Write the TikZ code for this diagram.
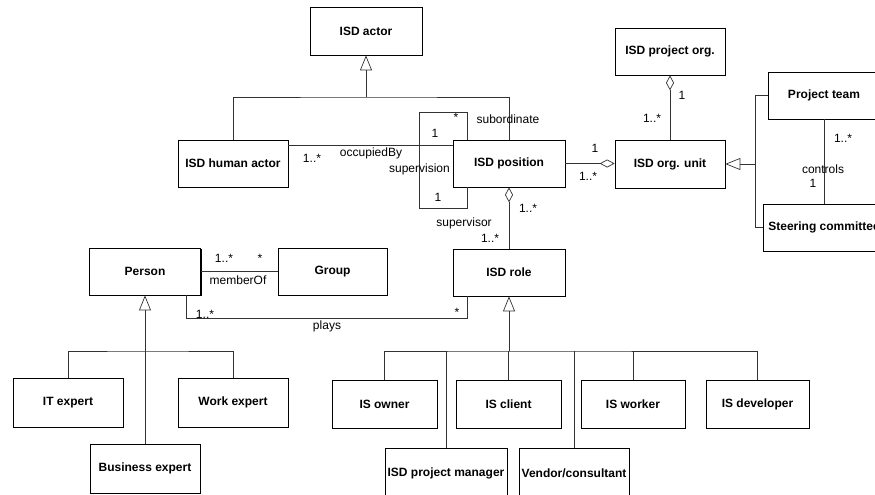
\documentclass[tikz,border=0pt]{standalone}
\usepackage{fontspec}
\setmainfont{Liberation Sans}
\usetikzlibrary{arrows.meta,calc,shadows}
\begin{document}
\begin{tikzpicture}[x=1pt,y=-1pt,
  box/.style={draw=black,line width=0.7pt,fill=white,rectangle,inner sep=0pt,
    minimum width=#1,minimum height=47pt,
    font=\fontsize{12}{14}\selectfont\bfseries,
    general shadow={fill=black,shadow xshift=1.1pt,shadow yshift=-1.1pt}},
  box/.default=110pt,
  conn/.style={draw=black!80,line width=0.6pt},
  gen/.style={conn,-{Triangle[open,width=12pt,length=15pt,line width=0.7pt]}},
  agg/.style={conn,-{Diamond[open,width=8pt,length=15pt,line width=0.7pt]}},
  lbl/.style={inner sep=0pt,font=\fontsize{12}{14}\selectfont}]
\useasboundingbox (0,0) rectangle (875,495);
\clip (0,0) rectangle (875,495);

% boxes
\node[box=112pt,minimum height=48pt] (actor) at (366,31) {ISD actor};
\node[box=110pt] (hum) at (233,163.5) {ISD human actor};
\node[box=112pt] (pos) at (509,163.5) {ISD position};
\node[box=112pt] (role) at (509,272.5) {ISD role};
\node[box=111pt] (person) at (145,271.5) {Person};
\node[box=109pt] (group) at (332.5,271.5) {Group};
\node[box=110pt,minimum height=49pt] (itx) at (68,402.5) {IT expert};
\node[box=110pt,minimum height=49pt] (work) at (233,402.5) {Work expert};
\node[box=110pt,minimum height=49pt] (bus) at (145,468.5) {Business expert};
\node[box=110pt] (projorg) at (670,51.5) {ISD project org.};
\node[box=110pt,minimum height=48pt] (unit) at (670,164) {ISD org. unit};
\node[box=112pt] (team) at (824,95.5) {Project team};
\node[box=122pt] (steer) at (824,227.5) {Steering committee};
\node[box=105pt,minimum height=48pt] (owner) at (384.5,404) {IS owner};
\node[box=105pt,minimum height=48pt] (client) at (508.5,404) {IS client};
\node[box=104pt,minimum height=48pt] (worker) at (633,404) {IS worker};
\node[box=103pt,minimum height=48pt] (dev) at (757.5,404) {IS developer};
\node[box=122pt,minimum height=50pt] (pm) at (446,473) {ISD project manager};
\node[box=110pt,minimum height=50pt] (vendor) at (574,473) {Vendor/consultant};

% junction points
\coordinate (g1) at (366,97);
\coordinate (pb) at (145,351);
\coordinate (rb) at (509,351);
\coordinate (ob) at (755,164);

% generalization: ISD actor
\draw[conn] (hum.north) |- (g1) -| (pos.north);
\draw[gen] (g1) -- (actor.south);

% occupiedBy
\draw[conn] ($(hum.north east)+(0,6)$) -- ($(pos.north west)+(0,6)$);

% supervision loop
\draw[conn] ($(pos.north west)+(15,0)$) -- ++(0,-27) -- ++(-48,0) -- ++(0,96) -- ++(48,0) -- ($(pos.south west)+(15,0)$);

% position - role aggregation
\draw[agg] (role.north) -- (pos.south);

% memberOf
\draw[conn] ($(person.north east)+(0,24)$) -- ($(group.north west)+(0,24)$);

% plays
\draw[conn] ($(person.south west)+(97,0)$) -- ++(0,23) -| ($(role.south west)+(15,0)$);

% Person generalization
\draw[conn] (itx.north) |- (pb) -| (work.north);
\draw[conn] (bus.north) -- (pb);
\draw[gen] (pb) -- (person.south);

% ISD role generalization
\draw[conn] (owner.north) |- (rb) -| (dev.north);
\draw[conn] (client.north) -- (client.north |- rb);
\draw[conn] (worker.north) -- (worker.north |- rb);
\draw[conn] (pm.north) -- (pm.north |- rb);
\draw[conn] (vendor.north) -- (vendor.north |- rb);
\draw[gen] (rb) -- (role.south);

% org
\draw[agg] (unit.north) -- (projorg.south);
\draw[agg] (pos.east) -- (pos.east -| unit.west);
\draw[conn] (team.west) -| (ob) |- (steer.west);
\draw[gen] (ob) -- (unit.east);
\draw[conn] (team.south) -- (steer.north);

% labels
\node[lbl] (l1) at (312,158) {1..*};
\node[lbl] (l2) at (371,153) {occupiedBy};
\node[lbl] (l3) at (456,117) {*};
\node[lbl] (l4) at (435,133) {1};
\node[lbl] (l5) at (508,119) {subordinate};
\node[lbl,anchor=east] (l6) at (450,169) {supervision};
\node[lbl] (l7) at (438,197) {1};
\node[lbl] (l8) at (464,223) {supervisor};
\node[lbl] (l9) at (528,208) {1..*};
\node[lbl] (l10) at (490,238) {1..*};
\node[lbl] (l11) at (224,258) {1..*};
\node[lbl] (l12) at (260,258) {*};
\node[lbl] (l13) at (238,280) {memberOf};
\node[lbl] (l14) at (205,314) {1..*};
\node[lbl] (l15) at (457,312) {*};
\node[lbl] (l16) at (327,326) {plays};
\node[lbl] (l17) at (682,95) {1};
\node[lbl] (l18) at (652,118) {1..*};
\node[lbl] (l19) at (595,148) {1};
\node[lbl] (l20) at (588,176) {1..*};
\node[lbl] (l21) at (843,138) {1..*};
\node[lbl] (l22) at (823,169) {controls};
\node[lbl] (l23) at (813,183) {1};
\end{tikzpicture}
\end{document}
